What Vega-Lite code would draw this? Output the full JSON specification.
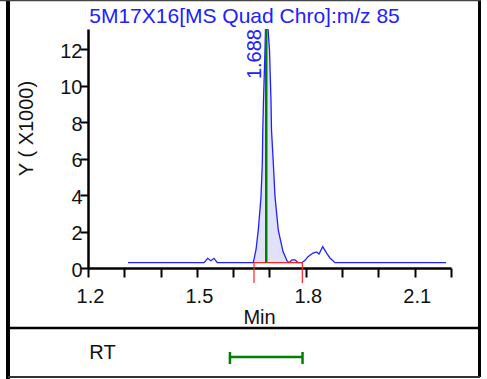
{
  "$schema": "https://vega.github.io/schema/vega-lite/v6.json",
  "width": 363,
  "height": 239,
  "autosize": {"type": "none"},
  "padding": {"left": 88, "top": 29, "right": 36, "bottom": 111},
  "background": "white",
  "config": {"view": {"stroke": null}, "font": "Liberation Sans"},
  "title": {
    "text": "5M17X16[MS Quad Chro]:m/z 85",
    "color": "#2020ff",
    "fontSize": 21,
    "fontWeight": "normal",
    "font": "Liberation Sans",
    "anchor": "middle",
    "frame": "group",
    "dx": -25,
    "baseline": "alphabetic",
    "offset": -46
  },
  "resolve": {"axis": {"x": "independent", "y": "independent"}},
  "datasets": {
    "chrom": [
      {"t": 1.31, "v": 0.29}, {"t": 1.40, "v": 0.29}, {"t": 1.50, "v": 0.29},
      {"t": 1.5196, "v": 0.29}, {"t": 1.5298, "v": 0.53}, {"t": 1.5388, "v": 0.40},
      {"t": 1.5471, "v": 0.53}, {"t": 1.5562, "v": 0.29}, {"t": 1.60, "v": 0.29},
      {"t": 1.6554, "v": 0.29}, {"t": 1.6628, "v": 1.0}, {"t": 1.6691, "v": 2.08},
      {"t": 1.6766, "v": 3.9}, {"t": 1.6802, "v": 5.74}, {"t": 1.6815, "v": 7.57},
      {"t": 1.6835, "v": 9.2}, {"t": 1.6876, "v": 11.95}, {"t": 1.6912, "v": 15.0},
      {"t": 1.6945, "v": 13.5}, {"t": 1.7, "v": 11.95}, {"t": 1.7041, "v": 9.2},
      {"t": 1.7055, "v": 7.57}, {"t": 1.7105, "v": 5.74}, {"t": 1.7152, "v": 3.9},
      {"t": 1.7242, "v": 2.08}, {"t": 1.7372, "v": 0.9}, {"t": 1.7482, "v": 0.4},
      {"t": 1.7537, "v": 0.29}, {"t": 1.762, "v": 0.45}, {"t": 1.7702, "v": 0.45},
      {"t": 1.7785, "v": 0.3}, {"t": 1.7895, "v": 0.29}, {"t": 1.7978, "v": 0.42},
      {"t": 1.806, "v": 0.62}, {"t": 1.8198, "v": 0.82}, {"t": 1.83, "v": 0.88},
      {"t": 1.8364, "v": 0.77}, {"t": 1.8466, "v": 1.17}, {"t": 1.8576, "v": 0.8},
      {"t": 1.8667, "v": 0.55}, {"t": 1.8804, "v": 0.29}, {"t": 2.0, "v": 0.29},
      {"t": 2.1862, "v": 0.29}
    ],
    "integration": [{"start": 1.6573, "end": 1.7904, "base": 0.29, "apex": 1.691, "rt": 1.688, "label": "1.688"}],
    "rtwindow": [{"name": "RT", "from": 1.591, "to": 1.791}]
  },
  "layer": [
    {
      "data": {"name": "chrom"},
      "transform": [{"filter": {"field": "t", "range": [1.655, 1.7905]}}],
      "mark": {"type": "area", "clip": true, "color": "#3535e0", "opacity": 0.15},
      "encoding": {
        "x": {"field": "t", "type": "quantitative", "scale": {"domain": [1.2, 2.2], "nice": false, "zero": false},
          "axis": {
            "title": "Min",
            "values": [1.2, 1.3, 1.4, 1.5, 1.6, 1.7, 1.8, 1.9, 2.0, 2.1, 2.2],
            "format": ".1f",
            "labelExpr": "indexof(['1.2','1.5','1.8','2.1'], datum.label) >= 0 ? datum.label : ''",
            "grid": false,
            "domainColor": "black", "domainWidth": 2.5,
            "tickColor": "black", "tickWidth": 2, "tickSize": 9,
            "labelFontSize": 20, "labelColor": "#111", "labelFont": "Liberation Sans",
            "labelPadding": 9, "labelOffset": 2, "labelFlush": false, "labelOverlap": false, "labelBound": false,
            "titleFontSize": 20, "titleFontWeight": "normal", "titleColor": "#111", "titleFont": "Liberation Sans",
            "titleX": 171, "titleY": 55, "titleBaseline": "alphabetic", "titleAlign": "center"
          }},
        "y": {"field": "v", "type": "quantitative", "scale": {"domain": [0, 13.1], "nice": false, "zero": false},
          "axis": {
            "title": "Y ( X1000)",
            "values": [0, 2, 4, 6, 8, 10, 12],
            "format": "d",
            "grid": false,
            "domainColor": "black", "domainWidth": 2.5,
            "tickColor": "black", "tickWidth": 2, "tickSize": 8,
            "labelFontSize": 20, "labelColor": "#111", "labelFont": "Liberation Sans",
            "labelPadding": -2, "labelOffset": 2, "labelBaseline": "middle", "labelFlush": false, "labelOverlap": false, "labelBound": false,
            "titleFontSize": 20, "titleFontWeight": "normal", "titleColor": "#111", "titleFont": "Liberation Sans",
            "titleX": -62, "titleY": 99, "titleAngle": 270, "titleAlign": "center", "titleBaseline": "middle"
          }},
        "y2": {"datum": 0.29}
      }
    },
    {
      "data": {"name": "chrom"},
      "mark": {"type": "line", "clip": true, "color": "#2020ff", "strokeWidth": 1.3},
      "encoding": {
        "x": {"field": "t", "type": "quantitative", "scale": {"domain": [1.2, 2.2], "nice": false, "zero": false}, "axis": null},
        "y": {"field": "v", "type": "quantitative", "scale": {"domain": [0, 13.1], "nice": false, "zero": false}, "axis": null}
      }
    },
    {
      "data": {"name": "integration"},
      "mark": {"type": "rule", "color": "#ff2020", "strokeWidth": 1.2},
      "encoding": {
        "x": {"field": "start", "type": "quantitative", "scale": {"domain": [1.2, 2.2], "nice": false, "zero": false}, "axis": null},
        "x2": {"field": "end"},
        "y": {"field": "base", "type": "quantitative", "scale": {"domain": [0, 13.1], "nice": false, "zero": false}, "axis": null}
      }
    },
    {
      "data": {"name": "integration"},
      "transform": [{"fold": ["start", "end"], "as": ["edge", "time"]}],
      "mark": {"type": "rule", "color": "#ff2020", "strokeWidth": 1.2},
      "encoding": {
        "x": {"field": "time", "type": "quantitative", "scale": {"domain": [1.2, 2.2], "nice": false, "zero": false}, "axis": null},
        "y": {"field": "base", "type": "quantitative", "scale": {"domain": [0, 13.1], "nice": false, "zero": false}, "axis": null},
        "y2": {"datum": -0.82}
      }
    },
    {
      "data": {"name": "integration"},
      "mark": {"type": "rule", "color": "#008000", "strokeWidth": 2.5},
      "encoding": {
        "x": {"field": "apex", "type": "quantitative", "scale": {"domain": [1.2, 2.2], "nice": false, "zero": false}, "axis": null},
        "y": {"field": "base", "type": "quantitative", "scale": {"domain": [0, 13.1], "nice": false, "zero": false}, "axis": null},
        "y2": {"datum": 13.1}
      }
    },
    {
      "data": {"name": "integration"},
      "mark": {"type": "text", "angle": 270, "align": "right", "baseline": "bottom", "color": "#2020ff", "fontSize": 20, "font": "Liberation Sans"},
      "encoding": {
        "x": {"field": "rt", "type": "quantitative", "scale": {"domain": [1.2, 2.2], "nice": false, "zero": false}, "axis": null},
        "y": {"datum": 13.1, "type": "quantitative", "scale": {"domain": [0, 13.1], "nice": false, "zero": false}, "axis": null},
        "text": {"field": "label"}
      }
    },
    {
      "data": {"name": "rtwindow"},
      "mark": {"type": "rule", "color": "#008000", "strokeWidth": 2.5},
      "encoding": {
        "x": {"field": "from", "type": "quantitative", "scale": {"domain": [1.2, 2.2], "nice": false, "zero": false}, "axis": null},
        "x2": {"field": "to"},
        "y": {"datum": -4.878, "type": "quantitative", "scale": {"domain": [0, 13.1], "nice": false, "zero": false}, "axis": null}
      }
    },
    {
      "data": {"name": "rtwindow"},
      "transform": [{"fold": ["from", "to"], "as": ["edge", "time"]}],
      "mark": {"type": "rule", "color": "#008000", "strokeWidth": 2.5},
      "encoding": {
        "x": {"field": "time", "type": "quantitative", "scale": {"domain": [1.2, 2.2], "nice": false, "zero": false}, "axis": null},
        "y": {"datum": -4.604, "type": "quantitative", "scale": {"domain": [0, 13.1], "nice": false, "zero": false}, "axis": null},
        "y2": {"datum": -5.262}
      }
    },
    {
      "data": {"name": "rtwindow"},
      "mark": {"type": "text", "align": "center", "baseline": "alphabetic", "color": "#111", "fontSize": 20, "font": "Liberation Sans"},
      "encoding": {
        "x": {"datum": 1.24, "type": "quantitative", "scale": {"domain": [1.2, 2.2], "nice": false, "zero": false}, "axis": null},
        "y": {"datum": -5.004, "type": "quantitative", "scale": {"domain": [0, 13.1], "nice": false, "zero": false}, "axis": null},
        "text": {"field": "name"}
      }
    },
    {
      "data": {"values": [{}]},
      "mark": {"type": "rule", "color": "black", "strokeWidth": 4},
      "encoding": {
        "x": {"datum": 0.9796, "type": "quantitative", "scale": {"domain": [1.2, 2.2], "nice": false, "zero": false}, "axis": null},
        "y": {"datum": 14.69, "type": "quantitative", "scale": {"domain": [0, 13.1], "nice": false, "zero": false}, "axis": null},
        "y2": {"datum": -6.08}
      }
    },
    {
      "data": {"values": [{}]},
      "mark": {"type": "rule", "color": "black", "strokeWidth": 3},
      "encoding": {
        "x": {"datum": 2.2785, "type": "quantitative", "scale": {"domain": [1.2, 2.2], "nice": false, "zero": false}, "axis": null},
        "y": {"datum": 14.69, "type": "quantitative", "scale": {"domain": [0, 13.1], "nice": false, "zero": false}, "axis": null},
        "y2": {"datum": -5.975}
      }
    },
    {
      "data": {"values": [{}]},
      "mark": {"type": "rule", "color": "#444", "strokeWidth": 1.5},
      "encoding": {
        "x": {"datum": 0.9576, "type": "quantitative", "scale": {"domain": [1.2, 2.2], "nice": false, "zero": false}, "axis": null},
        "x2": {"datum": 2.2826},
        "y": {"datum": 14.662, "type": "quantitative", "scale": {"domain": [0, 13.1], "nice": false, "zero": false}, "axis": null}
      }
    },
    {
      "data": {"values": [{}]},
      "mark": {"type": "rule", "color": "black", "strokeWidth": 2.5},
      "encoding": {
        "x": {"datum": 0.9851, "type": "quantitative", "scale": {"domain": [1.2, 2.2], "nice": false, "zero": false}, "axis": null},
        "x2": {"datum": 2.2799},
        "y": {"datum": -3.289, "type": "quantitative", "scale": {"domain": [0, 13.1], "nice": false, "zero": false}, "axis": null}
      }
    },
    {
      "data": {"values": [{}]},
      "mark": {"type": "rule", "color": "#333", "strokeWidth": 2},
      "encoding": {
        "x": {"datum": 0.9796, "type": "quantitative", "scale": {"domain": [1.2, 2.2], "nice": false, "zero": false}, "axis": null},
        "x2": {"datum": 2.2799},
        "y": {"datum": -5.975, "type": "quantitative", "scale": {"domain": [0, 13.1], "nice": false, "zero": false}, "axis": null}
      }
    }
  ]
}
